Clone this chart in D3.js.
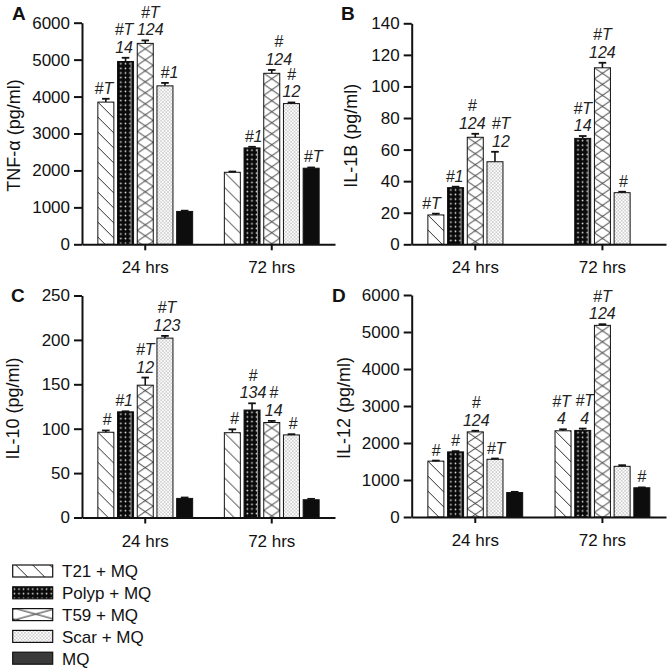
<!DOCTYPE html>
<html><head><meta charset="utf-8">
<script src="https://cdn.jsdelivr.net/npm/d3@7"></script>
<style>body{margin:0;background:#fff}svg{display:block}text{font-family:"Liberation Sans",Arial,sans-serif}</style>
</head><body><svg id="c" width="671" height="671"></svg>
<script>
// ---------- data ----------
const groups = ["24 hrs", "72 hrs"];
const treatments = ["T21 + MQ", "Polyp + MQ", "T59 + MQ", "Scar + MQ", "MQ"];

const tnfMean24 = [3850, 4950, 5440, 4290, 890];
const tnfErr24  = [90, 100, 80, 80, 20];
const tnfMean72 = [1950, 2610, 4630, 3810, 2060];
const tnfErr72  = [20, 30, 90, 30, 20];
const tnfLab24  = ["#T", "#T\n14", "#T\n124", "#1", ""];
const tnfLab72  = ["", "#1", "#\n124", "#\n12", "#T"];
const tnfTicks  = [0, 1000, 2000, 3000, 4000, 5000, 6000];

const il1bMean24 = [18.6, 35.9, 67.8, 52.3, 0];
const il1bErr24  = [0.8, 0.6, 2.2, 6.3, 0];
const il1bMean72 = [0, 67.1, 111.8, 32.7, 0];
const il1bErr72  = [0, 1.5, 3.2, 0.6, 0];
const il1bLab24  = ["#T", "#1", "#\n124", "#T\n12", ""];
const il1bLab72  = ["", "#T\n14", "#T\n124", "#", ""];
const il1bTicks  = [0, 20, 40, 60, 80, 100, 120, 140];

const il10Mean24 = [96, 119, 149, 202, 21.5];
const il10Err24  = [2, 0.6, 8.6, 2.5, 1];
const il10Mean72 = [95.5, 121, 107, 93, 20];
const il10Err72  = [3.8, 7.6, 1.8, 0.8, 1];
const il10Lab24  = ["#", "#1", "#T\n12", "#T\n123", ""];
const il10Lab72  = ["#", "#\n134", "#\n14", "#", ""];
const il10Ticks  = [0, 50, 100, 150, 200, 250];

const il12Mean24 = [1510, 1760, 2300, 1560, 660];
const il12Err24  = [15, 20, 30, 20, 20];
const il12Mean72 = [2330, 2340, 5180, 1370, 790];
const il12Err72  = [40, 50, 30, 30, 10];
const il12Lab24  = ["#", "#", "#\n124", "#T", ""];
const il12Lab72  = ["#T\n4", "#T\n4", "#T\n124", "", "#"];
const il12Ticks  = [0, 1000, 2000, 3000, 4000, 5000, 6000];

// ---------- layout ----------
const panels = [
  {letter:"A", yLabel:"TNF-α (pg/ml)", ticks:tnfTicks, means:[tnfMean24,tnfMean72], errs:[tnfErr24,tnfErr72], labs:[tnfLab24,tnfLab72],
   dx:[[-2,-1.5,5,4.5,0],[0,1.5,7,0,2]],
   left:82, right:335, top:22.7, bottom:244.3, lx:12, ly:20, ylx:13.5},
  {letter:"B", yLabel:"IL-1B (pg/ml)", ticks:il1bTicks, means:[il1bMean24,il1bMean72], errs:[il1bErr24,il1bErr72], labs:[il1bLab24,il1bLab72],
   dx:[[-4.5,-1,-3,6,0],[0,0,0,1,0]],
   left:411.7, right:666, top:23.3, bottom:244.3, lx:341, ly:20, ylx:351},
  {letter:"C", yLabel:"IL-10 (pg/ml)", ticks:il10Ticks, means:[il10Mean24,il10Mean72], errs:[il10Err24,il10Err72], labs:[il10Lab24,il10Lab72],
   dx:[[1,-1.5,0,2,0],[2,1,2,1.5,0]],
   left:82, right:335, top:295.5, bottom:517.5, lx:11, ly:302, ylx:12.5},
  {letter:"D", yLabel:"IL-12 (pg/ml)", ticks:il12Ticks, means:[il12Mean24,il12Mean72], errs:[il12Err24,il12Err72], labs:[il12Lab24,il12Lab72],
   dx:[[0,0,1,1,0],[-1.5,2,0,0,0]],
   left:411.7, right:666, top:295, bottom:517, lx:332, ly:302, ylx:344}
];

const svg = d3.select("#c");
const defs = svg.append("defs");
let pid = 0;

function patternFill(ti, x0, y0, w, s0) {
  const id = "p" + (pid++);
  if (ti === 0) { // diagonal "\"
    const s = s0 || 15;
    const p = defs.append("pattern").attr("id", id).attr("patternUnits","userSpaceOnUse")
      .attr("x", x0).attr("y", y0).attr("width", s).attr("height", s);
    p.append("rect").attr("width", s).attr("height", s).attr("fill","#fff");
    p.append("path").attr("d", `M-1,-1L${s+1},${s+1}M${-s-1},-1L1,${s+1}M${s-1},-1L${2*s+1},${s+1}`)
      .attr("stroke","#111").attr("stroke-width",0.9).attr("fill","none");
  } else if (ti === 1) { // black with white dots
    const s = 4.6;
    const p = defs.append("pattern").attr("id", id).attr("patternUnits","userSpaceOnUse")
      .attr("x", x0 + 1).attr("y", y0).attr("width", s).attr("height", s);
    p.append("rect").attr("width", s).attr("height", s).attr("fill","#0a0a0a");
    p.append("circle").attr("cx", s/2).attr("cy", s/2).attr("r", 0.85).attr("fill","#e8e8e8");
  } else if (ti === 2) { // cross hatch
    const h = 11;
    const p = defs.append("pattern").attr("id", id).attr("patternUnits","userSpaceOnUse")
      .attr("x", x0).attr("y", y0).attr("width", w).attr("height", h);
    p.append("rect").attr("width", w).attr("height", h).attr("fill","#fff");
    p.append("path").attr("d", `M0,0L${w},${h}M${w},0L0,${h}`)
      .attr("stroke","#111").attr("stroke-width",0.9).attr("fill","none");
  } else if (ti === 3) { // fine stipple
    const s = 3.4;
    const p = defs.append("pattern").attr("id", id).attr("patternUnits","userSpaceOnUse")
      .attr("x", x0).attr("y", y0).attr("width", s).attr("height", s);
    p.append("rect").attr("width", s).attr("height", s).attr("fill","#fff");
    p.append("circle").attr("cx", 0.85).attr("cy", 0.85).attr("r", 0.55).attr("fill","#777");
    p.append("circle").attr("cx", 2.55).attr("cy", 2.55).attr("r", 0.55).attr("fill","#777");
  } else {
    return "#0d0d0d";
  }
  return `url(#${id})`;
}

const fontStack = '"Liberation Sans", Arial, sans-serif';

panels.forEach(p => {
  const x = d3.scaleBand().domain(groups).range([p.left, p.right]);
  const y = d3.scaleLinear().domain([0, p.ticks[p.ticks.length-1]]).range([p.bottom, p.top]);
  const inner = d3.scaleBand().domain(treatments).range([-47.4, 47.4]).paddingInner(0.188);
  const bw = inner.bandwidth();
  const g = svg.append("g");

  groups.forEach((grp, gi) => {
    const cx0 = x(grp) + x.bandwidth()/2;
    treatments.forEach((t, ti) => {
      const v = p.means[gi][ti];
      const e = p.errs[gi][ti];
      const lab = p.labs[gi][ti];
      const bx = cx0 + inner(t);
      const cx = bx + bw/2;
      if (v > 0) {
        g.append("rect").attr("x", bx).attr("y", y(v)).attr("width", bw).attr("height", y(0) - y(v))
          .attr("fill", patternFill(ti, bx, y(v), bw)).attr("stroke", "#111").attr("stroke-width", 1);
        if (ti === 1) {
          g.append("line").attr("x1", bx + bw - 2.5).attr("x2", bx + bw - 2.5)
            .attr("y1", y(v) + 1).attr("y2", y(0)).attr("stroke", "#999").attr("stroke-width", 1);
        }
      }
      if (e > 0 && v > 0) {
        g.append("line").attr("x1", cx).attr("x2", cx).attr("y1", y(v)).attr("y2", y(v + e))
          .attr("stroke", "#111").attr("stroke-width", 1.6);
        g.append("line").attr("x1", cx - 3.8).attr("x2", cx + 3.8).attr("y1", y(v + e)).attr("y2", y(v + e))
          .attr("stroke", "#111").attr("stroke-width", 1.8);
      }
      if (lab) {
        const lines = lab.split("\n");
        const base = y(v + e) - 5;
        lines.forEach((ln, li) => {
          g.append("text").attr("x", cx + p.dx[gi][ti]).attr("y", base - (lines.length - 1 - li) * 17.5)
            .attr("text-anchor", "middle").attr("font-style", "italic")
            .attr("font-size", 16).attr("fill", "#222").style("font-family", fontStack).text(ln);
        });
      }
    });
  });

  // y axis
  const ya = g.append("g").attr("transform", `translate(${p.left},0)`)
    .call(d3.axisLeft(y).tickValues(p.ticks).tickSize(8).tickSizeOuter(0).tickPadding(4).tickFormat(d3.format("d")));
  ya.selectAll("path,line").attr("stroke", "#111").attr("stroke-width", 2);
  ya.selectAll("text").attr("font-size", 17).attr("fill", "#111").style("font-family", fontStack);

  // x axis
  const xa = g.append("g").attr("transform", `translate(0,${y(0)})`)
    .call(d3.axisBottom(x).tickSize(6).tickSizeOuter(0).tickPadding(11));
  xa.selectAll("path,line").attr("stroke", "#111").attr("stroke-width", 2);
  xa.selectAll("text").attr("font-size", 17).attr("fill", "#111").style("font-family", fontStack);

  // y label
  const cy = (p.top + p.bottom) / 2 + 2;
  g.append("text").attr("transform", `translate(${p.ylx},${cy}) rotate(-90)`)
    .attr("text-anchor", "middle").attr("dy", "0.35em").attr("font-size", 18).attr("fill", "#111")
    .style("font-family", fontStack).text(p.yLabel);

  // panel letter
  g.append("text").attr("x", p.lx).attr("y", p.ly).attr("font-size", 19).attr("font-weight", "bold")
    .attr("fill", "#111").style("font-family", fontStack).text(p.letter);
});

// legend
const lg = svg.append("g");
treatments.forEach((t, ti) => {
  const top = 565 + ti * 21.8;
  const fill = ti === 4 ? "#3a3a3a" : patternFill(ti, 12.7 + 3, top, 40, 17);
  lg.append("rect").attr("x", 12.7).attr("y", top).attr("width", 40).attr("height", 12)
    .attr("fill", fill).attr("stroke", "#111").attr("stroke-width", 1.2);
  lg.append("text").attr("x", 62).attr("y", top + 12.3).attr("font-size", 17).attr("fill", "#111")
    .style("font-family", fontStack).text(t);
});
</script></body></html>
